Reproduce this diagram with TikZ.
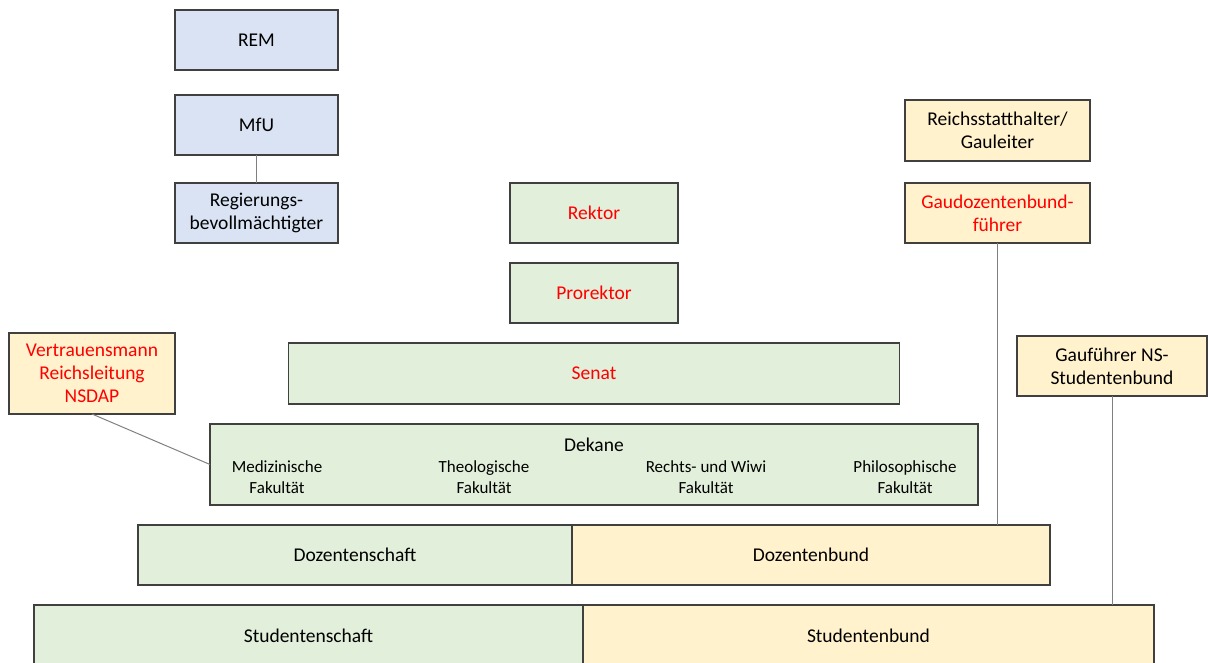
\documentclass[tikz,border=0pt]{standalone}
\usepackage{fontspec}
\setmainfont{Carlito}
\usetikzlibrary{positioning}
\definecolor{govblue}{HTML}{DAE3F3}
\definecolor{unigreen}{HTML}{E2EFDA}
\definecolor{partyyellow}{HTML}{FFF2CC}
\definecolor{boxline}{HTML}{404040}
\definecolor{linkgray}{HTML}{808080}
\definecolor{nsred}{HTML}{FF0000}
\tikzset{
  box/.style={draw=boxline, line width=1.3pt, align=center, inner sep=2pt, outer sep=0pt,
    minimum height=60pt, font=\fontsize{19.5}{23}\selectfont},
  gov/.style={box, fill=govblue, minimum width=163pt},
  uni/.style={box, fill=unigreen},
  party/.style={box, fill=partyyellow},
  office/.style={text=nsred},
  fac/.style={align=center, inner sep=0pt, font=\fontsize{17}{21}\selectfont},
  link/.style={draw=linkgray, line width=1pt},
}

\begin{document}
\begin{tikzpicture}[x=1pt, y=-1pt]
      \clip (0,0) rectangle (1208,663);
      \useasboundingbox (0,0) rectangle (1208,663);
      % Ministry
      \node[gov] (rem) at (256.5,40) {REM};
      \node[gov, below=25pt of rem] (mfu) {MfU};
      \node[gov, below=28pt of mfu] (rbev) {Regierungs-\\bevollmächtigter};
      % University
      \node[uni, office, minimum width=168pt] (rektor) at (594,213) {Rektor};
      \node[uni, office, minimum width=168pt, below=20pt of rektor] (prorektor) {Prorektor};
      \node[uni, office, minimum width=611pt, minimum height=61pt, below=20pt of prorektor] (senat) {Senat};
      \node[uni, minimum width=768pt, minimum height=81pt, below=20pt of senat] (dekane) {};
      \node[fac, font=\fontsize{19.5}{23}\selectfont] (dekanetitle) at ([yshift=-21pt]dekane.north) {Dekane};
      \node[fac] (medfak) at ([xshift=67pt, yshift=-13pt]dekane.west) {Medizinische\\Fakultät};
      \node[fac] (theofak) at ([xshift=274pt, yshift=-13pt]dekane.west) {Theologische\\Fakultät};
      \node[fac] (rewifak) at ([xshift=496pt, yshift=-13pt]dekane.west) {Rechts- und Wiwi\\Fakultät};
      \node[fac] (philfak) at ([xshift=695pt, yshift=-13pt]dekane.west) {Philosophische\\Fakultät};
      \node[uni, minimum width=434pt] (dozschaft) at (355,555) {Dozentenschaft};
      \node[party, minimum width=478pt, right=0pt of dozschaft] (dozbund) {Dozentenbund};
      \node[uni, minimum width=549pt, minimum height=62pt] (studschaft) at (308.5,636) {Studentenschaft};
      \node[party, minimum width=571pt, minimum height=62pt, right=0pt of studschaft] (studbund) {Studentenbund};
      % Party
      \node[party, minimum width=185pt, minimum height=61pt] (reichsst) at (997.5,130.5) {Reichsstatthalter/\\Gauleiter};
      \node[party, office, minimum width=185pt, below=22pt of reichsst] (gaudoz) {Gaudozentenbund-\\führer};
      \node[party, minimum width=190pt] (gaustud) at (1112,366) {Gauführer NS-\\Studentenbund};
      \node[party, office, minimum width=166pt, minimum height=81pt] (vertrauen) at (92,373.5) {Vertrauensmann\\Reichsleitung\\NSDAP};
      % Connect nodes
      \draw[link] (mfu) -- (rbev);
      \draw[link] (vertrauen.south) -- (dekane.west);
      \draw[link] (gaudoz.south) -- (gaudoz.south |- dozbund.north);
      \draw[link] (gaustud.south) -- (gaustud.south |- studbund.north);
    \end{tikzpicture}
\end{document}
